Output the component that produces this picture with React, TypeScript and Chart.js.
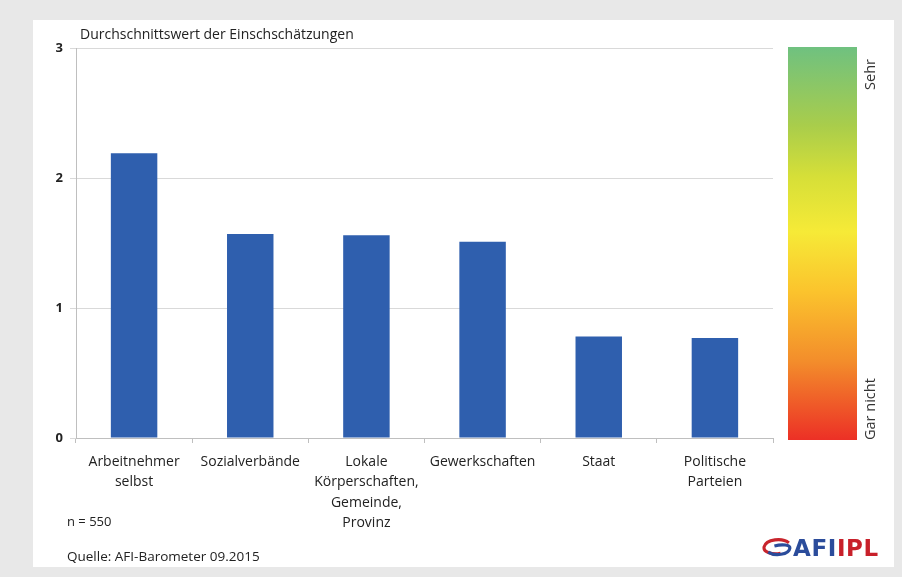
import React, { useEffect, useRef } from "react";
import { Chart, registerables } from "chart.js";

Chart.register(...registerables);

const categories: (string | string[])[] = [
  ["Arbeitnehmer", "selbst"],
  "Sozialverbände",
  ["Lokale", "Körperschaften,", "Gemeinde,", "Provinz"],
  "Gewerkschaften",
  "Staat",
  ["Politische", "Parteien"],
];
const values = [2.19, 1.57, 1.56, 1.51, 0.78, 0.77];
const yMin = 0;
const yMax = 3;
const scaleTop = "Sehr";
const scaleBottom = "Gar nicht";
const titleText = "Durchschnittswert der Einschschätzungen";
const sampleText = "n = 550";
const sourceText = "Quelle: AFI-Barometer 09.2015";

const FONT = "'Open Sans', 'DejaVu Sans', sans-serif";

const colorBarPlugin = {
  id: "colorBar",
  afterDraw(chart: any) {
    const { ctx, chartArea } = chart;
    const x = chartArea.right + 15;
    const w = 69;
    const top = chartArea.top - 1;
    const bottom = chartArea.bottom + 2;
    const g = ctx.createLinearGradient(0, top, 0, bottom);
    g.addColorStop(0, "#6fc180");
    g.addColorStop(0.2, "#a9cd4b");
    g.addColorStop(0.33, "#d6df38");
    g.addColorStop(0.47, "#f6ea37");
    g.addColorStop(0.62, "#fbc42d");
    g.addColorStop(0.8, "#f38d2b");
    g.addColorStop(1, "#ec3026");
    ctx.save();
    ctx.fillStyle = g;
    ctx.fillRect(x, top, w, bottom - top);
    ctx.fillStyle = "#333";
    ctx.font = `14.5px ${FONT}`;
    ctx.textBaseline = "middle";
    const lx = chartArea.right + 98;
    ctx.translate(lx, 0);
    ctx.rotate(-Math.PI / 2);
    ctx.textAlign = "right";
    ctx.fillText(scaleTop, -(top + 12), 0);
    ctx.textAlign = "left";
    ctx.fillText(scaleBottom, -bottom, 0);
    ctx.restore();
  },
};

export default function App() {
  const ref = useRef<HTMLCanvasElement>(null);
  useEffect(() => {
    if (!ref.current) return;
    const chart = new Chart(ref.current, {
      type: "bar",
      data: {
        labels: categories,
        datasets: [
          {
            data: values,
            backgroundColor: "#2f5fae",
            barPercentage: 0.4,
            categoryPercentage: 1,
          },
        ],
      },
      options: {
        responsive: false,
        animation: false,
        layout: { padding: { left: 40, top: 48, right: 129, bottom: 39 } },
        plugins: {
          legend: { display: false },
          tooltip: { enabled: false },
          title: { display: false },
        },
        scales: {
          x: {
            afterFit(scale: any) {
              scale.height = 100;
            },
            grid: {
              offset: true,
              drawOnChartArea: false,
              drawTicks: true,
              tickLength: 5,
              color: "#bfbfbf",
            },
            border: { color: "#bfbfbf" },
            ticks: {
              color: "#222",
              font: { family: FONT, size: 14, lineHeight: 1.45 },
              padding: 9,
              maxRotation: 0,
              autoSkip: false,
            },
          },
          y: {
            min: yMin,
            max: yMax,
            afterFit(scale: any) {
              scale.width = 36;
            },
            grid: {
              color: "#d9d9d9",
              tickLength: 6,
              drawTicks: true,
            },
            border: { color: "#bfbfbf" },
            ticks: {
              stepSize: 1,
              color: "#222",
              font: { family: FONT, size: 13, weight: "bold" },
              padding: 7,
            },
          },
        },
      },
      plugins: [colorBarPlugin],
    } as any);
    return () => chart.destroy();
  }, []);

  const text: React.CSSProperties = {
    position: "absolute",
    fontFamily: FONT,
    color: "#222",
    whiteSpace: "nowrap",
    lineHeight: "16px",
  };

  return (
    <div
      style={{
        position: "fixed",
        left: 0,
        top: 0,
        width: 902,
        height: 577,
        background: "#e8e8e8",
        overflow: "hidden",
      }}
    >
      <div
        style={{
          position: "absolute",
          left: 33,
          top: 20,
          width: 861,
          height: 547,
          background: "#ffffff",
        }}
      />
      <canvas
        ref={ref}
        width={902}
        height={577}
        style={{ position: "absolute", left: 0, top: 0, width: 902, height: 577 }}
      />
      <div style={{ ...text, left: 80, top: 26, fontSize: 14 }}>{titleText}</div>
      <div style={{ ...text, left: 67, top: 513, fontSize: 13 }}>{sampleText}</div>
      <div style={{ ...text, left: 67, top: 548, fontSize: 13.5 }}>{sourceText}</div>
      <div
        style={{
          position: "absolute",
          left: 762,
          top: 536,
          height: 24,
          display: "flex",
          alignItems: "center",
          fontFamily: "'DejaVu Sans', sans-serif",
          fontWeight: "bold",
          fontSize: 23,
          letterSpacing: 0.6,
        }}
      >
        <svg width="30" height="20" viewBox="0 0 29 18" style={{ marginRight: 1 }}>
          <path d="M26 4 C20 -1 4 0 2 8 C1 13 10 16 18 14" fill="none" stroke="#c8242c" strokeWidth="3" />
          <path d="M6 13 C12 17 26 16 27 9 C27 6 20 5 12 7" fill="none" stroke="#2b4c9b" strokeWidth="3" />
        </svg>
        <span style={{ color: "#2b4c9b" }}>AFI</span>
        <span style={{ color: "#c8202a" }}>IPL</span>
      </div>
    </div>
  );
}
